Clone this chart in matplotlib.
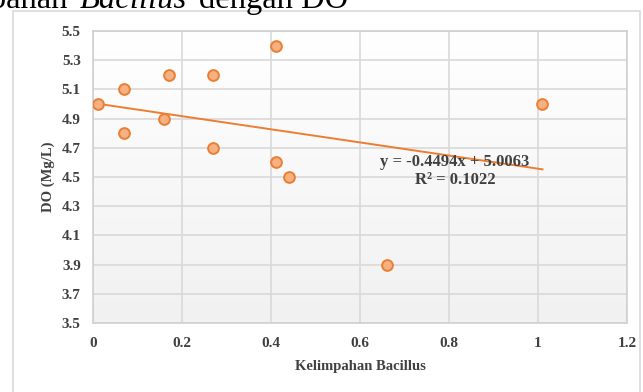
#!/usr/bin/env python3

import numpy as np
import matplotlib
matplotlib.use('Agg')
import matplotlib.pyplot as plt
from matplotlib.patches import Rectangle

plt.rcParams['font.family'] = 'Liberation Serif'

# data
bacillus = [0.01, 0.07, 0.07, 0.17, 0.16, 0.27, 0.27, 0.41, 0.41, 0.44, 0.66, 1.01]
do_vals = [5.0, 5.1, 4.8, 5.2, 4.9, 5.2, 4.7, 5.4, 4.6, 4.5, 3.9, 5.0]
slope = -0.4494
intercept = 5.0063
r2 = 0.1022
x_ticks = [0, 0.2, 0.4, 0.6, 0.8, 1.0, 1.2]
x_tick_labels = ['0', '0.2', '0.4', '0.6', '0.8', '1', '1.2']
y_ticks = [3.5, 3.7, 3.9, 4.1, 4.3, 4.5, 4.7, 4.9, 5.1, 5.3, 5.5]

W, H = 643, 392
fig = plt.figure(figsize=(W / 100, H / 100), dpi=100)

# outer chart border
fig.patches.append(Rectangle((13 / W, -0.05), (640 - 13) / W, 1.05 - 11 / H,
                             transform=fig.transFigure, fill=False,
                             edgecolor='#d9d9d9', lw=1.2))

# caption cut off at top of the page
txt_kw = dict(fontsize=23.5, color='black', va='baseline', ha='right')
yb = 1 - 8 / H
fig.text(348 / W, yb, 'dengan DO', **txt_kw)
fig.text(187 / W, yb, 'Bacillus', style='italic', **txt_kw)
fig.text(67 / W, yb, 'Kelimpahan', **txt_kw)

ax = fig.add_axes([93.3 / W, 1 - 323 / H, (627 - 93.3) / W, (323 - 31) / H])

# soft vertical gradient in the plot area
grad = np.linspace(0, 1, 256).reshape(-1, 1)
ax.imshow(grad, extent=[0, 1, 0, 1], transform=ax.transAxes, aspect='auto',
          cmap=matplotlib.colors.LinearSegmentedColormap.from_list('g', ['#f1f1f1', '#ffffff']),
          origin='lower', zorder=0)

ax.set_xlim(0, 1.2)
ax.set_ylim(3.5, 5.5)
ax.set_xticks(x_ticks)
ax.set_xticklabels(x_tick_labels)
ax.set_yticks(y_ticks)
ax.set_yticklabels([f'{v:.1f}' for v in y_ticks])
ax.grid(True, color='#d9d9d9', lw=1.2, zorder=1)
ax.set_axisbelow(True)
for s in ax.spines.values():
    s.set_color('#d0d0d0')
    s.set_linewidth(1.2)
ax.tick_params(length=0, labelsize=11, labelcolor='#404040')
ax.tick_params(axis='y', pad=9)
ax.tick_params(axis='x', pad=10)
for lab in ax.get_xticklabels() + ax.get_yticklabels():
    lab.set_fontweight('bold')

# trendline over the data range
xs = np.array([min(bacillus), max(bacillus)])
ax.plot(xs, slope * xs + intercept, color='#ED7D31', lw=1.4, zorder=3)

ax.scatter(bacillus, do_vals, s=60, facecolor='#F4B183', edgecolor='#ED7D31',
           linewidth=1.4, zorder=4)

ax.text(0.813, 4.54, f'y = {slope}x + {intercept}\nR² = {r2}', ha='center', va='center',
        fontsize=12, fontweight='bold', color='#404040', linespacing=1.2, zorder=5)

ax.set_xlabel('Kelimpahan Bacillus', fontsize=10.5, fontweight='bold', color='#404040', labelpad=7)
ax.set_ylabel('DO (Mg/L)', fontsize=10.5, fontweight='bold', color='#404040', labelpad=5)

fig.savefig('out.png', dpi=100)
